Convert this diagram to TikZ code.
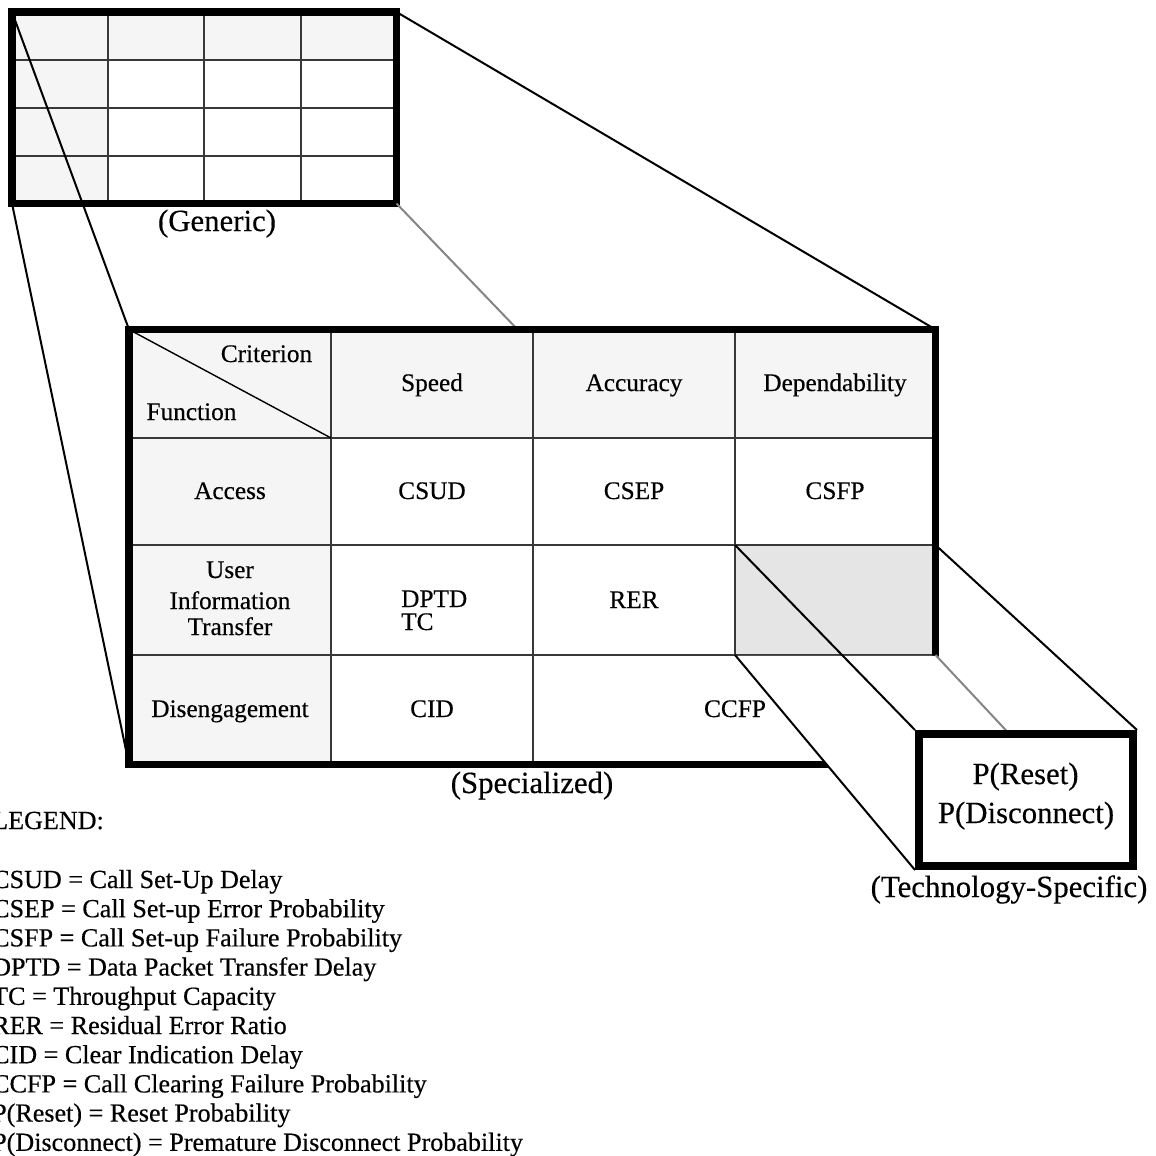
\documentclass[tikz,border=0pt]{standalone}
\usepackage{fontspec}
\setmainfont{Liberation Serif}[FakeBold=0.4]
\begin{document}
\begin{tikzpicture}[x=1pt,y=-1pt,
  grid/.style={draw=black!78,line width=1.4pt},
  frame/.style={draw=black,line width=7.5pt},
  edge/.style={draw=black,line width=2pt},
  hidden/.style={draw=black!48,line width=2pt},
  cell/.style={font=\fontsize{25.3}{29}\selectfont,inner sep=0pt,anchor=base},
  caption/.style={font=\fontsize{30.8}{36}\selectfont,inner sep=0pt,anchor=base},
  legend/.style={font=\fontsize{26.1}{29.2}\selectfont,inner sep=0pt,anchor=base west},
]
\useasboundingbox (0,0) rectangle (1156,1156);
\fill[white] (0,0) rectangle (1156,1156);

% ---- corner points ----
% generic matrix
\coordinate (g-tl) at (12,12);
\coordinate (g-tr) at (396.5,12);
\coordinate (g-bl) at (12,203.5);
\coordinate (g-br) at (396.5,203.5);
% specialized matrix
\coordinate (s-tl) at (129,329.5);
\coordinate (s-tr) at (935.5,329.5);
\coordinate (s-bl) at (129,764.5);
\coordinate (s-br) at (935.5,764.5);
% highlighted cell
\coordinate (c-tl) at (735,545);
\coordinate (c-tr) at (935.5,545);
\coordinate (c-bl) at (735,655);
\coordinate (c-br) at (935.5,655);

% ---- generic matrix ----
\fill[white] (g-tl) rectangle (g-br);
\fill[black!4] (12,12) rectangle (396.5,60);
\fill[black!4] (12,60) rectangle (108,203.5);
\foreach \x in {108,204,301} \draw[grid] (\x,12) -- (\x,203.5);
\foreach \y in {60,108,156} \draw[grid] (12,\y) -- (396.5,\y);
\draw[frame] (g-tl) rectangle (g-br);

% ---- edges from generic to specialized ----
\draw[hidden] (g-br) -- (s-br);
\draw[edge] (g-tl) -- (s-tl);
\draw[edge] (g-bl) -- (s-bl);
\draw[edge] (g-tr) -- (s-tr);

% ---- specialized matrix ----
\fill[white] (s-tl) rectangle (s-br);
\fill[black!4] (129,329.5) rectangle (935.5,438);
\fill[black!4] (129,438) rectangle (331,764.5);
\fill[black!10] (c-tl) rectangle (c-br);
\draw[grid] (331,329.5) -- (331,764.5);
\draw[grid] (533,329.5) -- (533,764.5);
\draw[grid] (735,329.5) -- (735,655);
\foreach \y in {438,545,655} \draw[grid] (129,\y) -- (935.5,\y);
\draw[black,line width=1.4pt] (s-tl) -- (331,438);
\draw[frame] (s-tl) rectangle (s-br);

% ---- extrusion towards the technology-specific box ----
\fill[white] (735,655.8) -- (936,655.8) -- (1137,730) -- (1137,870) -- (915,870) -- cycle;
\draw[hidden] (c-br) -- (1133,866);
\node[draw=black,fill=white,line width=8pt,minimum width=214pt,minimum height=132pt,inner sep=0pt] (tech) at (1026,800) {};
\draw[edge] (c-tl) -- (tech.north west);
\draw[edge] (c-tr) -- (tech.north east);
\draw[edge] (c-bl) -- (tech.south west);

% ---- matrix texts ----
\node[cell] (crit) at (266.5,362) {Criterion};
\node[cell] (func) at (191.5,420) {Function};
\node[cell] (speed) at (432,391) {Speed};
\node[cell] (acc) at (634,391) {Accuracy};
\node[cell] (dep) at (835,391) {Dependability};
\node[cell] (access) at (230,499) {Access};
\node[cell] (csud) at (432,499) {CSUD};
\node[cell] (csep) at (634,499) {CSEP};
\node[cell] (csfp) at (835,499) {CSFP};
\node[cell] (uit1) at (230,578) {User};
\node[cell] (uit2) at (230,609) {Information};
\node[cell] (uit3) at (230,635) {Transfer};
\node[cell,anchor=base west] (dptd) at (401,607) {DPTD};
\node[cell,anchor=base west] (tc) at (401,630) {TC};
\node[cell] (rer) at (634,608) {RER};
\node[cell] (dis) at (230,717) {Disengagement};
\node[cell] (cid) at (432,717) {CID};
\node[cell] (ccfp) at (735,717) {CCFP};

% ---- captions ----
\node[caption] (lgen) at (217,231) {(Generic)};
\node[caption] (lspec) at (532,793) {(Specialized)};
\node[caption] (ltech) at (1009,897) {(Technology-Specific)};
\node[caption] (preset) at (1025.5,784) {P(Reset)};
\node[caption] (pdisc) at (1026,823) {P(Disconnect)};

% ---- legend ----
\node[legend] (leg) at (-8,829) {LEGEND:};
\foreach \t [count=\i from 0] in {%
  CSUD = Call Set-Up Delay,
  CSEP = Call Set-up Error Probability,
  CSFP = Call Set-up Failure Probability,
  DPTD = Data Packet Transfer Delay,
  TC = Throughput Capacity,
  RER = Residual Error Ratio,
  CID = Clear Indication Delay,
  CCFP = Call Clearing Failure Probability,
  P(Reset) = Reset Probability,
  P(Disconnect) = Premature Disconnect Probability}
  \node[legend] (leg\i) at (-8,888+29.2*\i) {\t};
\end{tikzpicture}
\end{document}
